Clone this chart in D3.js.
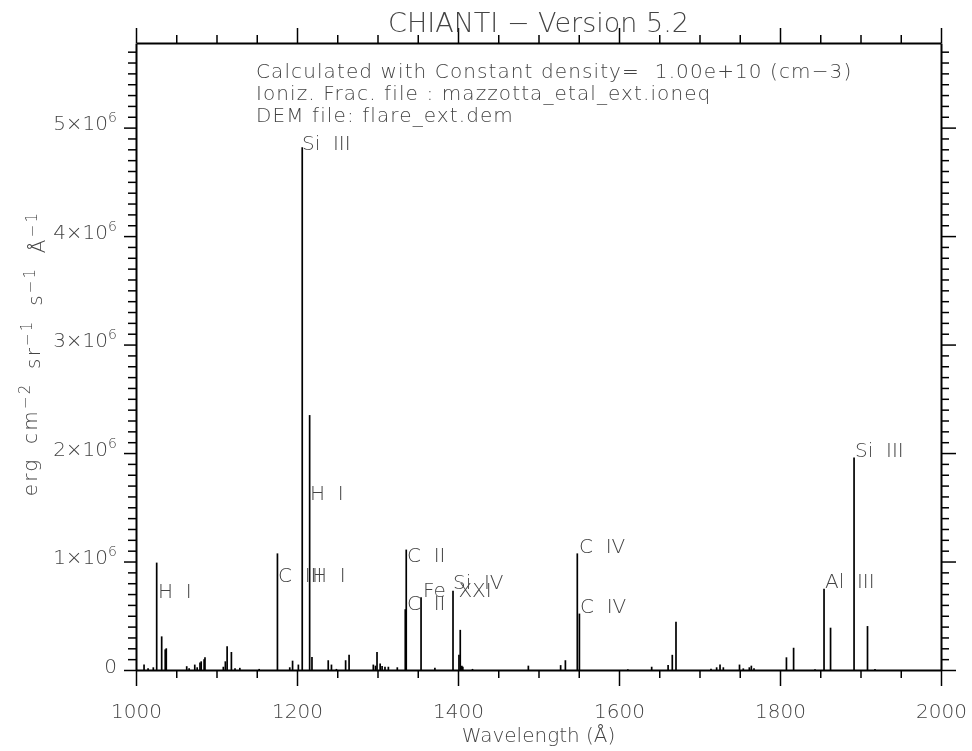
<!DOCTYPE html>
<html>
<head>
<meta charset="utf-8">
<script src="https://cdn.jsdelivr.net/npm/d3@7/dist/d3.min.js"></script>
<style>
  body { margin: 0; background: #fff; }
  svg { will-change: transform; }
  text { font-family: 'DejaVu Sans', sans-serif; font-weight: 200; fill: #444; white-space: pre; }
</style>
</head>
<body>
<div id="chart"></div>
<script>
var title = 'CHIANTI − Version 5.2'
var notes = [
  'Calculated with Constant density=  1.00e+10 (cm−3)',
  'Ioniz. Frac. file : mazzotta_etal_ext.ioneq',
  'DEM file: flare_ext.dem'
]

// line positions (Angstrom) and peak intensities
var wavelengths = [
  1010, 1015, 1021.5, 1025.7, 1031.9, 1036.3, 1037.6, 1063, 1066, 1073, 1076, 1079.5, 1081, 1084.6, 1085.7,
  1108.5, 1111, 1113.2, 1118.5, 1123, 1129, 1153, 1175.7, 1191, 1194.5, 1201.7, 1206.5, 1215.7, 1218.6,
  1238.8, 1242.8, 1249, 1260.4, 1264.7, 1294.8, 1297.5, 1299.4, 1303.3, 1305.7, 1309.3, 1313.5, 1324.6,
  1334.5, 1335.7, 1354.1, 1371.3, 1393.8, 1401.2, 1402.8, 1404.8, 1406.0, 1418,
  1487.4, 1527.5, 1533.4, 1548.2, 1550.8, 1611, 1640.6, 1661.0, 1666.2, 1670.8,
  1714.3, 1721.3, 1725.5, 1729.6, 1749.7, 1754.4, 1761.9, 1764.4, 1767.7,
  1808.0, 1816.9, 1843.5, 1854.7, 1862.8, 1892.0, 1908.7, 1918
]
var intensities = [
  0.05e6, 0.015e6, 0.025e6, 0.99e6, 0.31e6, 0.19e6, 0.20e6, 0.035e6, 0.015e6, 0.05e6, 0.025e6, 0.07e6, 0.08e6, 0.10e6, 0.117e6,
  0.03e6, 0.08e6, 0.22e6, 0.166e6, 0.015e6, 0.02e6, 0.01e6, 1.075e6, 0.025e6, 0.086e6, 0.05e6, 4.82e6, 2.35e6, 0.12e6,
  0.09e6, 0.05e6, 0.01e6, 0.09e6, 0.14e6, 0.05e6, 0.04e6, 0.165e6, 0.06e6, 0.037e6, 0.03e6, 0.03e6, 0.025e6,
  0.56e6, 1.11e6, 0.67e6, 0.02e6, 0.73e6, 0.14e6, 0.37e6, 0.04e6, 0.03e6, 0.01e6,
  0.04e6, 0.045e6, 0.09e6, 1.075e6, 0.52e6, 0.006e6, 0.03e6, 0.045e6, 0.14e6, 0.445e6,
  0.012e6, 0.025e6, 0.05e6, 0.025e6, 0.05e6, 0.015e6, 0.025e6, 0.04e6, 0.015e6,
  0.117e6, 0.205e6, 0.006e6, 0.75e6, 0.39e6, 1.96e6, 0.405e6, 0.01e6
]

// ion labels: text, wavelength of left edge, intensity of baseline
var labelText = ['Si  III', 'H  I', 'H  I', 'C  III', 'H  I', 'C  II', 'C  II', 'Fe  XXI', 'Si  IV', 'C  IV', 'C  IV', 'Al  III', 'Si  III']
var labelWave = [1206.2, 1216.1, 1027.3, 1176.4, 1218.6, 1336.6, 1336.6, 1356.5, 1393.8, 1550.3, 1551.6, 1855.9, 1893.2]
var labelInt  = [4.79e6, 1.567e6, 0.664e6, 0.811e6, 0.811e6, 0.996e6, 0.553e6, 0.673e6, 0.747e6, 1.078e6, 0.525e6, 0.756e6, 1.963e6]

var xMajor = [1000, 1200, 1400, 1600, 1800, 2000]
var yMajor = [0, 1e6, 2e6, 3e6, 4e6, 5e6]
var yMantissa = ['0', '1', '2', '3', '4', '5']
var yExponent = '6'
var xDomain = [1000, 2000]
var yMax = 5.78e6

var W = 972, H = 751
var m = {top: 43, right: 31, bottom: 81, left: 136}
var w = W - m.left - m.right, h = H - m.top - m.bottom

var svg = d3.select('#chart').append('svg').attr('width', W).attr('height', H)
var g = svg.append('g').attr('transform', 'translate(' + m.left + ',' + m.top + ')')

var x = d3.scaleLinear().domain(xDomain).range([0, w])
var y = d3.scaleLinear().domain([0, yMax]).range([h, 0])

var xMinor = d3.range(1000, 2001, 50).filter(d => xMajor.indexOf(d) < 0)
var yMinor = d3.range(0, yMax, 1e5).filter(d => d % 1e6 !== 0)

// spectrum
g.selectAll('line.spec')
  .data(d3.zip(wavelengths, intensities))
  .join('line')
  .attr('class', 'spec')
  .attr('x1', d => x(d[0])).attr('x2', d => x(d[0]))
  .attr('y1', y(0)).attr('y2', d => y(d[1]))
  .attr('stroke', '#000').attr('stroke-width', 1.7)

// axes, ticks pointing outward
function side(fn, scale, transform, major, minor, labels) {
  var a = g.append('g').attr('transform', transform)
  a.call(fn(scale).tickValues(minor).tickSize(8).tickSizeOuter(0).tickFormat(''))
  a.select('.domain').remove()
  var b = g.append('g').attr('transform', transform)
  b.call(fn(scale).tickValues(major).tickSize(labels ? (fn === d3.axisLeft ? 12 : 16) : 15).tickSizeOuter(0)
    .tickFormat(labels ? labels : ''))
  b.select('.domain').attr('stroke-width', 2)
  a.selectAll('line').attr('stroke-width', 1.5)
  b.selectAll('line').attr('stroke-width', 1.5)
  b.selectAll('text').attr('fill', null).attr('font-size', 20).attr('font-family', null)
  return b
}

side(d3.axisBottom, x, 'translate(0,' + h + ')', xMajor, xMinor, d => d).call(s => s.selectAll('text').attr('dy', null).attr('y', 48))
side(d3.axisTop, x, 'translate(0,0)', xMajor, xMinor, null)
side(d3.axisRight, y, 'translate(' + w + ',0)', yMajor, yMinor, null)
var yl = side(d3.axisLeft, y, 'translate(0,0)', yMajor, yMinor, (d, i) => yMantissa[i])
yl.selectAll('.tick text').attr('x', -19).attr('dy', '0.1em').each(function(d, i) {
  if (d === 0) return
  var t = d3.select(this).text(yMantissa[i] + '×10')
  t.append('tspan').attr('dy', '-0.55em').attr('font-size', 14).text(yExponent)
})

// ion labels
g.selectAll('text.ion')
  .data(labelText)
  .join('text')
  .attr('class', 'ion')
  .attr('x', (d, i) => x(labelWave[i]))
  .attr('y', (d, i) => y(labelInt[i]))
  .attr('font-size', 20)
  .text(d => d)

// titles
svg.append('text').attr('x', m.left + w / 2).attr('y', 32).attr('text-anchor', 'middle')
  .attr('font-size', 27).text(title)

svg.selectAll('text.note').data(notes).join('text').attr('class', 'note')
  .attr('x', 256).attr('y', (d, i) => 78 + i * 22).attr('font-size', 20)
  .style('letter-spacing', '1.1px').text(d => d)

svg.append('text').attr('x', m.left + w / 2).attr('y', 742).attr('text-anchor', 'middle')
  .attr('font-size', 20).text('Wavelength (Å)')

var yt = svg.append('text').attr('transform', 'translate(37,' + (m.top + h / 2 - 3) + ') rotate(-90)')
  .attr('text-anchor', 'middle').attr('font-size', 20)
  .style('letter-spacing', '2.2px').style('word-spacing', '5px')
var ytParts = [['erg cm', '−2'], [' sr', '−1'], [' s', '−1'], [' Å', '−1']]
ytParts.forEach(function(p, i) {
  yt.append('tspan').attr('dy', i ? '0.5em' : null).text(p[0])
  yt.append('tspan').attr('dy', '-0.5em').attr('font-size', 15).text(p[1])
})
</script>
</body>
</html>
